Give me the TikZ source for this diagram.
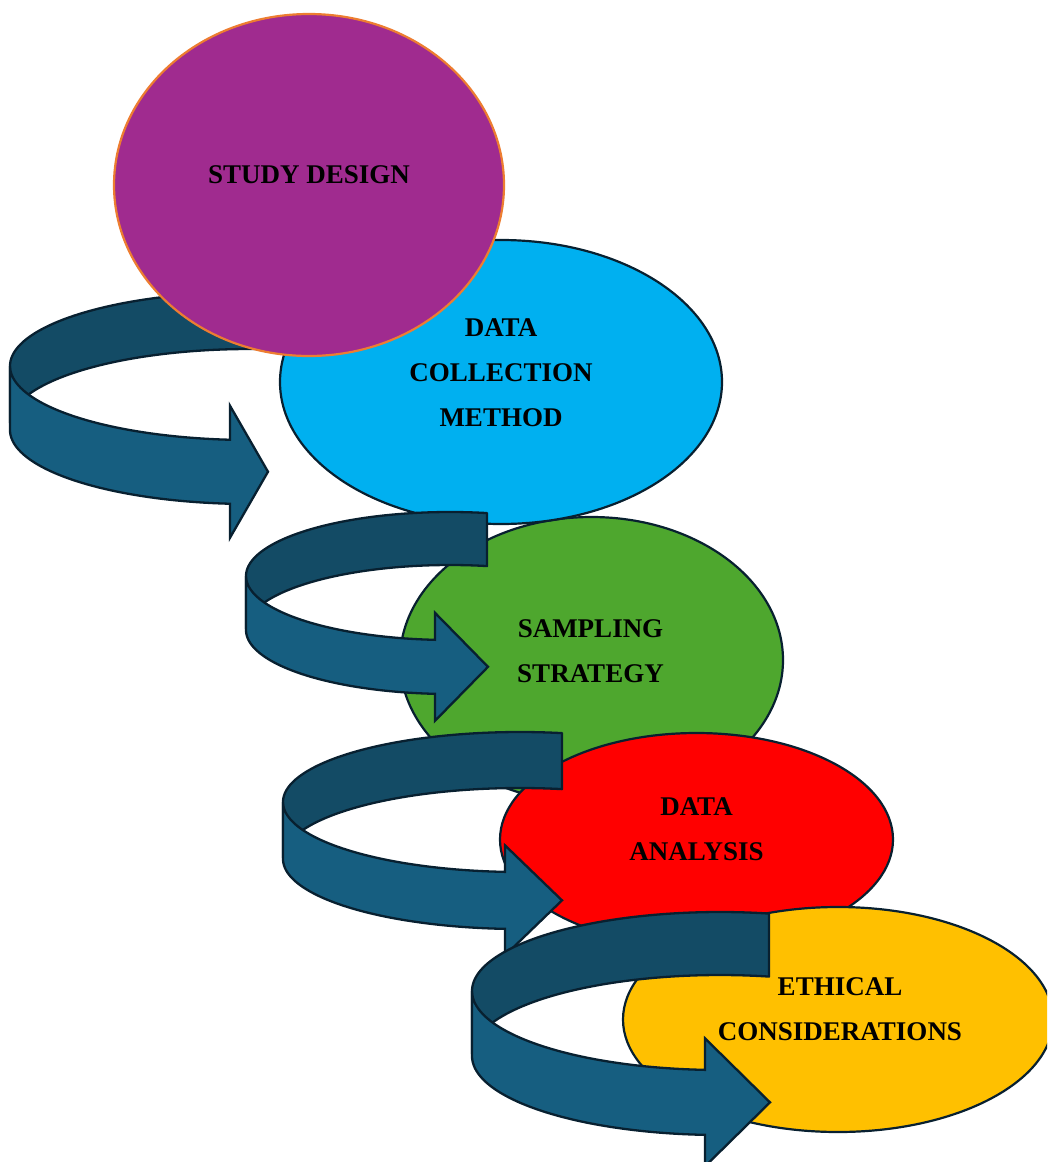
\documentclass[tikz,border=0pt]{standalone}
\usepackage{fontspec}
\setmainfont{Liberation Serif}
\usetikzlibrary{shapes.geometric}
\definecolor{cpurple}{RGB}{160,43,143}
\definecolor{corange}{RGB}{237,125,49}
\definecolor{ccyan}{RGB}{0,176,240}
\definecolor{cgreen}{RGB}{78,167,46}
\definecolor{cred}{RGB}{255,0,0}
\definecolor{cyellow}{RGB}{255,192,0}
\definecolor{cedge}{RGB}{8,32,48}
\definecolor{cback}{RGB}{19,75,101}
\definecolor{cfront}{RGB}{22,94,128}
\tikzset{
  backband/.style={fill=cback, draw=cedge, line width=2.3pt, line join=round},
  frontband/.style={fill=cfront, draw=cedge, line width=2.3pt, line join=miter},
  bubble/.style={ellipse, draw=cedge, line width=2.2pt, inner sep=0pt},
  caption/.style={font=\bfseries\fontsize{27}{45}\selectfont, align=center, text=black, inner sep=0pt},
}
% args: cx cy a b h xe xb headhalf xtip ; \rhb = back band height
\newcommand\myribbon[9]{%
  \pgfmathsetmacro\rte{360-acos((#6-#1)/#3)}%
  \pgfmathsetmacro\rtb{acos((#7-#1)/#3)}%
  \pgfmathsetmacro\ryt{#2+#4*sin(\rtb)}%
  \pgfmathsetmacro\rym{\ryt+#5/2}%
  \draw[backband] plot[domain=\rte:180,samples=80] ({#1+#3*cos(\x)},{#2+#4*sin(\x)})
     -- plot[domain=180:\rte,samples=80] ({#1+#3*cos(\x)},{#2+\rhb+#4*sin(\x)}) -- cycle;
  \draw[frontband] plot[domain=180:\rtb,samples=80] ({#1+#3*cos(\x)},{#2+#4*sin(\x)})
     -- (#7,{\rym-#8}) -- (#9,\rym) -- (#7,{\rym+#8})
     -- plot[domain=\rtb:180,samples=80] ({#1+#3*cos(\x)},{#2+#5+#4*sin(\x)}) -- cycle;
}
\begin{document}
\begin{tikzpicture}[x=1pt,y=-1pt]
\useasboundingbox (0,0) rectangle (1047,1162);
\clip (0,0) rectangle (1047,1162);
\node[bubble, fill=cgreen, minimum width=383pt, minimum height=286pt] (e3) at (591.5,660) {};
\node[bubble, fill=ccyan, minimum width=442pt, minimum height=284pt] (e2) at (501,382) {};
\def\rhb{57}
\myribbon{250}{366}{240}{74}{64}{300}{230}{66}{268}
\node[bubble, fill=cpurple, draw=corange, minimum width=390pt, minimum height=342pt] (e1) at (309,185) {};
\def\rhb{53}
\myribbon{450}{576}{204}{64}{54}{487}{435}{54}{488}
\node[bubble, fill=cred, minimum width=393pt, minimum height=213pt] (e4) at (696.5,839.5) {};
\def\rhb{56}
\myribbon{520}{802}{237}{70}{57}{562}{505}{55}{562}
\node[bubble, fill=cyellow, minimum width=430pt, minimum height=225pt] (e5) at (838,1019.5) {};
\def\rhb{63}
\myribbon{720}{991}{248}{79}{65}{769}{705}{64}{770}
\node[caption] (t1) at ([yshift=10pt]e1.center) {STUDY DESIGN};
\node[caption] (t2) at ([yshift=9pt]e2.center) {DATA\\COLLECTION\\METHOD};
\node[caption] (t3) at ([yshift=9pt,xshift=-1pt]e3.center) {SAMPLING\\STRATEGY};
\node[caption] (t4) at ([yshift=10pt]e4.center) {DATA\\ANALYSIS};
\node[caption] (t5) at ([yshift=10pt,xshift=2pt]e5.center) {ETHICAL\\CONSIDERATIONS};
\end{tikzpicture}
\end{document}
